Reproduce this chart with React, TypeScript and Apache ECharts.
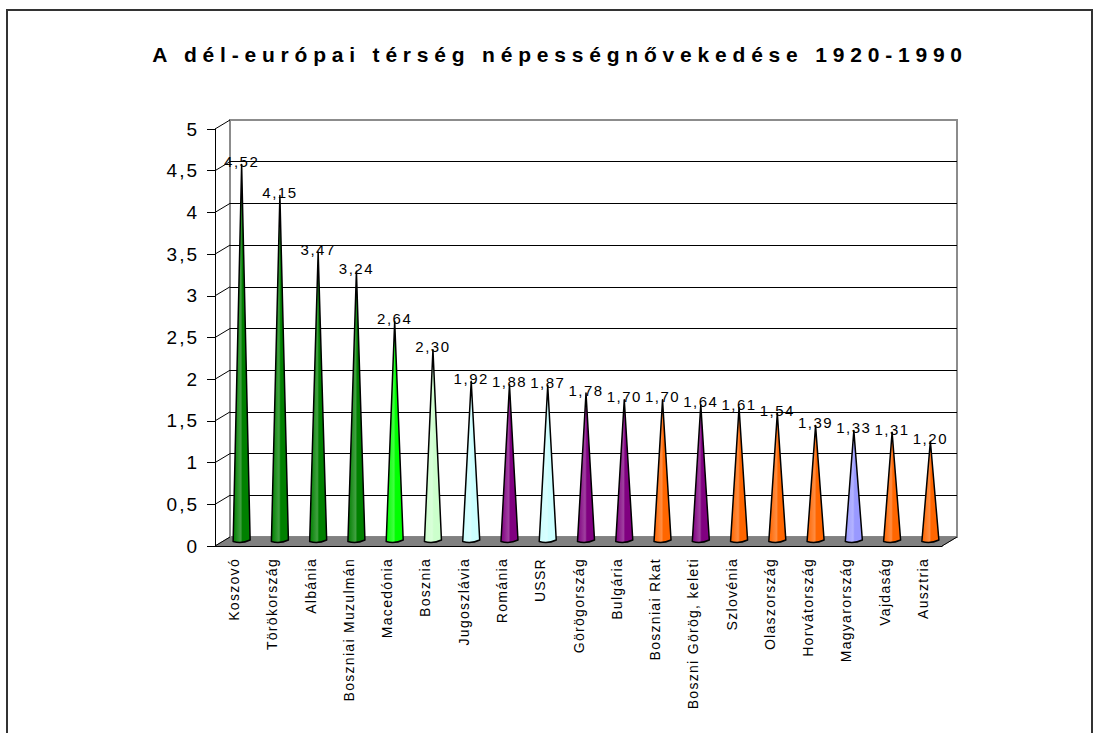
import React, { useEffect, useRef } from 'react';
import * as echarts from 'echarts';

const TITLE = 'A dél-európai térség népességnővekedése 1920-1990';

const categories = [
  'Koszovó', 'Törökország', 'Albánia', 'Boszniai Muzulmán', 'Macedónia', 'Bosznia',
  'Jugoszlávia', 'Románia', 'USSR', 'Görögország', 'Bulgária', 'Boszniai Rkat',
  'Boszni Görög, keleti', 'Szlovénia', 'Olaszország', 'Horvátország', 'Magyarország',
  'Vajdaság', 'Ausztria',
];

const values = [
  4.52, 4.15, 3.47, 3.24, 2.64, 2.30, 1.92, 1.88, 1.87, 1.78, 1.70, 1.70, 1.64, 1.61,
  1.54, 1.39, 1.33, 1.31, 1.20,
];

const GREEN = '#008000';
const LIME = '#00ff00';
const PALE_GREEN = '#ccffcc';
const PALE_CYAN = '#ccffff';
const PURPLE = '#800080';
const ORANGE = '#ff6600';
const PERIWINKLE = '#9999ff';

const coneColors = [
  GREEN, GREEN, GREEN, GREEN, LIME, PALE_GREEN, PALE_CYAN, PURPLE, PALE_CYAN, PURPLE,
  PURPLE, ORANGE, PURPLE, ORANGE, ORANGE, ORANGE, PERIWINKLE, ORANGE, ORANGE,
];

const Y_MIN = 0;
const Y_MAX = 5;
const Y_STEP = 0.5;

const FONT = '"Liberation Sans", Arial, Helvetica, sans-serif';
const FRONT = { left: 215, top: 129, width: 727, height: 417 };
const DEPTH = { dx: 15, dy: -9 };
const CONE_HALF = 8.5;

const comma = (v: number, d?: number) =>
  (d === undefined ? String(v) : v.toFixed(d)).replace('.', ',');

function lighten(hex: string, amt: number) {
  const n = parseInt(hex.slice(1), 16);
  const r = (n >> 16) & 255, g = (n >> 8) & 255, b = n & 255;
  const f = (c: number) => Math.round(c + (255 - c) * amt);
  return `rgb(${f(r)},${f(g)},${f(b)})`;
}

export default function App() {
  const ref = useRef<HTMLDivElement>(null);

  useEffect(() => {
    document.body.style.margin = '0';
    const el = ref.current!;
    const chart = echarts.init(el, null, { renderer: 'svg' });

    const back = { ...FRONT, left: FRONT.left + DEPTH.dx, top: FRONT.top + DEPTH.dy };
    const mid = { ...FRONT, left: FRONT.left + DEPTH.dx / 2, top: FRONT.top + DEPTH.dy / 2 };
    const yBase = { type: 'value', min: Y_MIN, max: Y_MAX, interval: Y_STEP };

    const option: any = {
      animation: false,
      backgroundColor: '#ffffff',
      title: {
        text: TITLE,
        left: 555,
        top: 39,
        textAlign: 'center',
        textStyle: { fontSize: 21, fontWeight: 'bold', color: '#000', fontFamily: FONT },
      },
      grid: [
        { ...back, show: true, borderColor: '#8c8c8c', borderWidth: 2, backgroundColor: 'transparent' },
        { ...FRONT },
        { ...mid },
      ],
      xAxis: [
        { gridIndex: 0, type: 'category', data: categories, show: false },
        {
          gridIndex: 1, type: 'category', data: categories, z: 5,
          axisLine: { lineStyle: { color: '#000', width: 1 } },
          axisTick: { length: 7, lineStyle: { color: '#000' } },
          axisLabel: { rotate: 90, interval: 0, fontSize: 14, color: '#000', fontFamily: FONT, margin: 12 },
        },
        { gridIndex: 2, type: 'category', data: categories, show: false },
      ],
      yAxis: [
        {
          gridIndex: 0, ...yBase,
          axisLine: { show: false }, axisTick: { show: false }, axisLabel: { show: false },
          splitLine: { show: true, showMaxLine: false, showMinLine: false, lineStyle: { color: '#000', width: 1 } },
        },
        {
          gridIndex: 1, ...yBase, z: 5,
          axisLine: { show: true, lineStyle: { color: '#000' } },
          axisTick: { show: true, length: 8, lineStyle: { color: '#000' } },
          axisLabel: { fontSize: 19, color: '#000', fontFamily: FONT, margin: 16, formatter: (v: number) => comma(v) },
          splitLine: { show: false },
        },
        { gridIndex: 2, ...yBase, show: false },
      ],
      series: [
        {
          type: 'custom',
          xAxisIndex: 2,
          yAxisIndex: 2,
          z: 10,
          data: values.map((v, i) => [i, v]),
          encode: { x: 0, y: 1 },
          renderItem: (params: any, api: any) => {
            const i = api.value(0);
            const v = api.value(1);
            const base = api.coord([i, 0]);
            const tip = api.coord([i, v]);
            const color = coneColors[i];
            const bx = base[0], by = base[1];
            const d =
              `M${tip[0]},${tip[1]} L${bx - CONE_HALF},${by} ` +
              `Q${bx},${by + 2.5} ${bx + CONE_HALF},${by - 1.5} Z`;
            return {
              type: 'group',
              children: [
                {
                  type: 'path',
                  shape: { pathData: d },
                  style: {
                    fill: new echarts.graphic.LinearGradient(0, 0, 1, 0, [
                      { offset: 0, color },
                      { offset: 0.45, color: lighten(color, 0.25) },
                      { offset: 0.55, color },
                      { offset: 1, color },
                    ]),
                    stroke: '#000',
                    lineWidth: 1.5,
                    lineJoin: 'round',
                  },
                },
                {
                  type: 'text',
                  x: tip[0],
                  y: tip[1] - 3,
                  style: {
                    text: comma(v, 2),
                    fontSize: 15,
                    fontFamily: FONT,
                    fill: '#000',
                    align: 'center',
                    verticalAlign: 'middle',
                  },
                },
              ],
            };
          },
        },
      ],
    };

    chart.setOption(option);

    // decorative 3D pieces: floor + depth ticks, placed from the axis scales
    const ticks: number[] = [];
    for (let v = Y_MIN; v <= Y_MAX + 1e-9; v += Y_STEP) ticks.push(v);
    const yPix = (v: number) => chart.convertToPixel({ yAxisIndex: 1 }, v) as number;
    const x0 = FRONT.left;
    const x1 = FRONT.left + FRONT.width;
    const y0 = yPix(Y_MIN);
    const graphic: any[] = [
      {
        type: 'rect',
        z: 20,
        shape: { x: 7, y: 10, width: 1085, height: 740 },
        style: { fill: 'none', stroke: '#333', lineWidth: 2 },
      },
      {
        type: 'polygon',
        z: 1,
        shape: {
          points: [
            [x0, y0], [x1, y0], [x1 + DEPTH.dx, y0 + DEPTH.dy], [x0 + DEPTH.dx, y0 + DEPTH.dy],
          ],
        },
        style: { fill: '#808080', stroke: '#808080', lineWidth: 1 },
      },
      {
        type: 'line',
        z: 5,
        shape: { x1: x1, y1: y0, x2: x1 + DEPTH.dx, y2: y0 + DEPTH.dy },
        style: { stroke: '#000', lineWidth: 1 },
      },
      ...ticks.map((v) => {
        const y = yPix(v);
        return {
          type: 'line',
          z: 5,
          shape: { x1: x0, y1: y, x2: x0 + DEPTH.dx, y2: y + DEPTH.dy },
          style: { stroke: '#000', lineWidth: 1 },
        };
      }),
    ];
    chart.setOption({ graphic });

    // spaced lettering like the original
    el.querySelectorAll('text').forEach((t) => {
      const s = t.textContent || '';
      if (s === TITLE) t.setAttribute('letter-spacing', '5.8');
      else if (/^\d,\d\d$/.test(s)) t.setAttribute('letter-spacing', '1.5');
      else if (categories.indexOf(s) >= 0) t.setAttribute('letter-spacing', '1.3');
      else t.setAttribute('letter-spacing', '2');
    });

    return () => chart.dispose();
  }, []);

  return <div ref={ref} style={{ width: 1097, height: 733 }} />;
}
